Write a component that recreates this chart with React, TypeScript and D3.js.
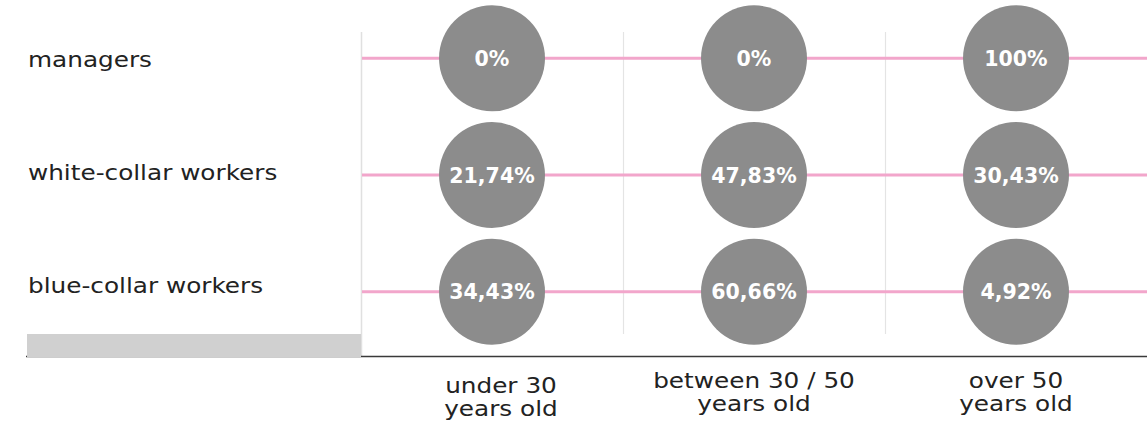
import React from "react";
import * as d3 from "d3";

const roles: string[] = ["managers", "white-collar workers", "blue-collar workers"];
const ageGroups: string[][] = [
  ["under 30", "years old"],
  ["between 30 / 50", "years old"],
  ["over 50", "years old"],
];
const under30: number[] = [0, 21.74, 34.43];
const between30and50: number[] = [0, 47.83, 60.66];
const over50: number[] = [100, 30.43, 4.92];
const seriesValues: number[][] = [under30, between30and50, over50];

const W = 1147;
const H = 423;
const plotLeft = 361;
const plotRight = 1147;
const baseY = 356.5;
const textStretch = 1.15;

const fmt = (v: number) => {
  const s = Number.isInteger(v) ? String(v) : v.toFixed(2).replace(".", ",");
  return s + "%";
};

export default function App() {
  const x = d3.scaleBand<number>().domain(d3.range(ageGroups.length)).range([plotLeft, plotRight]);
  const y = d3.scaleBand<number>().domain(d3.range(roles.length)).range([0, 350]);
  const yLabel = d3.scaleBand<number>().domain(d3.range(roles.length)).range([0, 339]);
  const r = 53;
  const labelFont = "'DejaVu Sans', sans-serif";
  const cx = (i: number) => (x(i) as number) + x.bandwidth() / 2;
  const cy = (j: number) => (y(j) as number) + y.bandwidth() / 2;
  const labelAdj = [
    { dx: 9, dy: 5 },
    { dx: 0, dy: 0 },
    { dx: 0, dy: 0 },
  ];
  return (
    <svg
      width={W}
      height={H}
      style={{ position: "absolute", left: 0, top: 0, background: "#fff" }}
    >
      {d3.range(1, ageGroups.length).map((i) => (
        <line
          key={"g" + i}
          x1={(x(i) as number) + 0.5}
          x2={(x(i) as number) + 0.5}
          y1={32}
          y2={334}
          stroke="#e4e4e4"
          strokeWidth={1.2}
        />
      ))}
      <line x1={plotLeft + 0.5} x2={plotLeft + 0.5} y1={32} y2={357} stroke="#e0e0e0" strokeWidth={1.5} />
      <line x1={26} x2={W} y1={baseY} y2={baseY} stroke="#3a3a3a" strokeWidth={1.5} />
      <rect x={27} y={334} width={plotLeft - 27} height={23} fill="#d0d0d0" />
      {roles.map((_, j) => (
        <line
          key={"p" + j}
          x1={plotLeft + 1}
          x2={plotRight}
          y1={cy(j)}
          y2={cy(j)}
          stroke="#f2a6cb"
          strokeWidth={3}
        />
      ))}
      {roles.map((name, j) => (
        <g
          key={"r" + j}
          transform={`translate(28,${(yLabel(j) as number) + yLabel.bandwidth() / 2 + 10.5}) scale(${textStretch},1)`}
        >
          <text x={0} y={0} fontFamily={labelFont} fontSize={21.5} fill="#222">
            {name}
          </text>
        </g>
      ))}
      {seriesValues.map((vals, i) =>
        vals.map((v, j) => (
          <g key={"c" + i + "-" + j}>
            <circle cx={cx(i)} cy={cy(j)} r={r} fill="#8c8c8c" />
            <text
              x={cx(i)}
              y={cy(j) + 7.5}
              textAnchor="middle"
              fontFamily="'DejaVu Sans', sans-serif"
              fontWeight="bold"
              fontSize={20.5}
              fill="#fff"
            >
              {fmt(v)}
            </text>
          </g>
        ))
      )}
      {ageGroups.map((lines, i) => (
        <g
          key={"x" + i}
          transform={`translate(${cx(i) + labelAdj[i].dx},${388 + labelAdj[i].dy}) scale(${textStretch},1)`}
        >
          <text x={0} y={0} textAnchor="middle" fontFamily={labelFont} fontSize={21.5} fill="#222">
            {lines.map((t, k) => (
              <tspan key={k} x={0} dy={k === 0 ? 0 : 23}>
                {t}
              </tspan>
            ))}
          </text>
        </g>
      ))}
    </svg>
  );
}
